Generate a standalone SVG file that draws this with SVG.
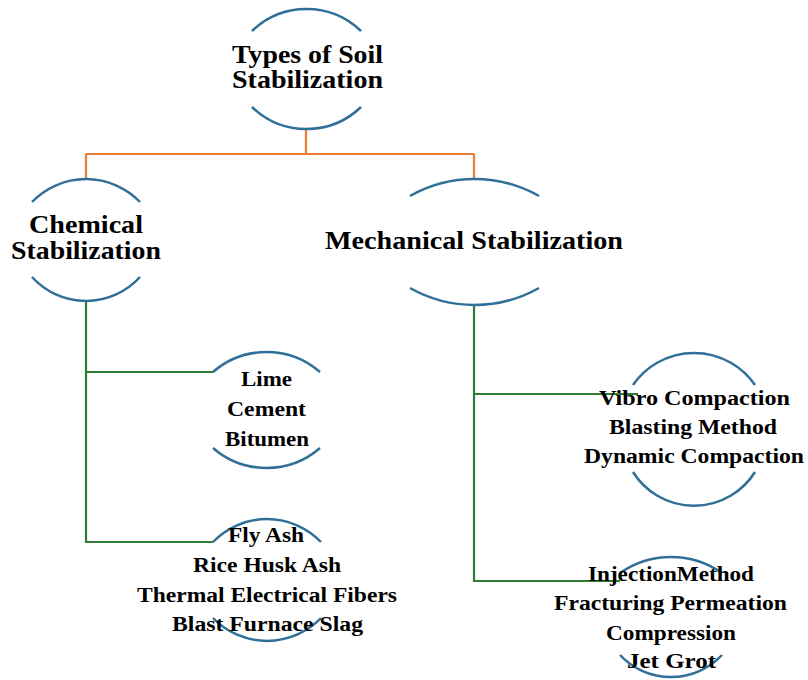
<svg xmlns="http://www.w3.org/2000/svg" width="808" height="680" viewBox="0 0 808 680">
<style>
.arc{fill:none;stroke:#2f6f98;stroke-width:2.5}
.or{fill:none;stroke:#ed7d31;stroke-width:2.2}
.gr{fill:none;stroke:#2e7d32;stroke-width:2.2}
text{font-family:"Liberation Serif","Times New Roman",serif;font-weight:bold;fill:#000}
.h{font-size:25px}
.l{font-size:20.5px}
</style>
<rect width="808" height="680" fill="#fff"/>
<g id="connectors">
<path class="or" d="M306,129 V154 M86,154 H474 M86,154 V179 M474,154 V179"/>
<path class="gr" d="M86,301 V542 H213 M86,372 H213"/>
<path class="gr" d="M474,305 V581 H620 M474,394 H638"/>
</g>
<g id="root">
<path class="arc" d="M252,31 A78.5,78.5 0 0 1 361,31"/>
<path class="arc" d="M252,107 A78.5,78.5 0 0 0 361,107"/>
<text class="h" x="232" y="63" textLength="151" lengthAdjust="spacingAndGlyphs">Types of Soil</text>
<text class="h" x="232" y="88" textLength="151" lengthAdjust="spacingAndGlyphs">Stabilization</text>
</g>
<g id="chemical">
<path class="arc" d="M32,202 A75,75 0 0 1 140,202"/>
<path class="arc" d="M32,277 A73,73 0 0 0 140,277"/>
<text class="h" x="29" y="233" textLength="114" lengthAdjust="spacingAndGlyphs">Chemical</text>
<text class="h" x="11" y="259" textLength="150" lengthAdjust="spacingAndGlyphs">Stabilization</text>
</g>
<g id="mechanical">
<path class="arc" d="M410,196 A131,131 0 0 1 539,196"/>
<path class="arc" d="M410,288 A131,131 0 0 0 539,288"/>
<text class="h" x="325" y="249" textLength="298" lengthAdjust="spacingAndGlyphs">Mechanical Stabilization</text>
</g>
<g id="chem-binders">
<path class="arc" d="M213,372 A81.6,81.6 0 0 1 320,372"/>
<path class="arc" d="M213,448 A81.6,81.6 0 0 0 320,448"/>
<text class="l" x="241" y="386" textLength="51" lengthAdjust="spacingAndGlyphs">Lime</text>
<text class="l" x="227" y="416" textLength="79" lengthAdjust="spacingAndGlyphs">Cement</text>
<text class="l" x="225" y="446" textLength="84" lengthAdjust="spacingAndGlyphs">Bitumen</text>
</g>
<g id="chem-waste">
<path class="arc" d="M213,542 A75,75 0 0 1 321,542"/>
<path class="arc" d="M213,618 A75,75 0 0 0 321,618"/>
<text class="l" x="228" y="542" textLength="76" lengthAdjust="spacingAndGlyphs">Fly Ash</text>
<text class="l" x="193" y="572" textLength="148" lengthAdjust="spacingAndGlyphs">Rice Husk Ash</text>
<text class="l" x="137" y="602" textLength="260" lengthAdjust="spacingAndGlyphs">Thermal Electrical Fibers</text>
<text class="l" x="172" y="631" textLength="191" lengthAdjust="spacingAndGlyphs">Blast Furnace Slag</text>
</g>
<g id="mech-compaction">
<path class="arc" d="M633,385 A74,74 0 0 1 755,385"/>
<path class="arc" d="M633,472 A72,72 0 0 0 755,472"/>
<text class="l" x="599" y="405" textLength="191" lengthAdjust="spacingAndGlyphs">Vibro Compaction</text>
<text class="l" x="609" y="434" textLength="168" lengthAdjust="spacingAndGlyphs">Blasting Method</text>
<text class="l" x="584" y="463" textLength="220" lengthAdjust="spacingAndGlyphs">Dynamic Compaction</text>
</g>
<g id="mech-grouting">
<path class="arc" d="M620,573 A89,89 0 0 1 722,573"/>
<path class="arc" d="M620,655 A70,70 0 0 0 722,655"/>
<text class="l" x="588" y="581" textLength="166" lengthAdjust="spacingAndGlyphs">InjectionMethod</text>
<text class="l" x="554" y="610" textLength="233" lengthAdjust="spacingAndGlyphs">Fracturing Permeation</text>
<text class="l" x="606" y="640" textLength="130" lengthAdjust="spacingAndGlyphs">Compression</text>
<text class="l" x="627" y="668" textLength="89" lengthAdjust="spacingAndGlyphs">Jet Grot</text>
</g>
</svg>
